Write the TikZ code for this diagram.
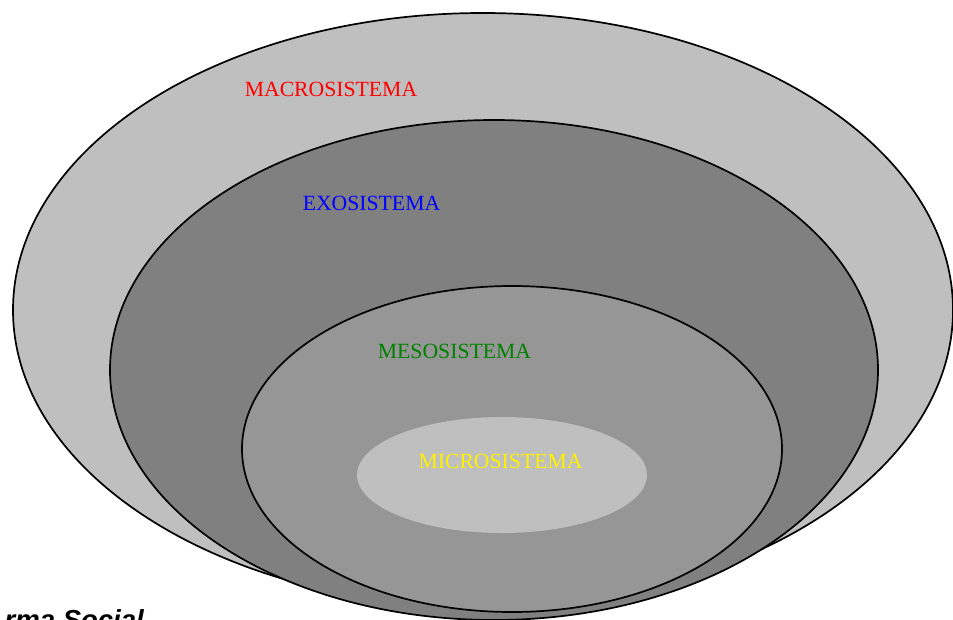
\documentclass[tikz,border=0pt]{standalone}
\usepackage{fontspec}
\setmainfont{Liberation Serif}
\newfontfamily\capfont{Liberation Sans}
\usetikzlibrary{shapes.geometric}
\definecolor{outerfill}{RGB}{191,191,191}
\definecolor{exofill}{RGB}{128,128,128}
\definecolor{mesofill}{RGB}{150,150,150}
\definecolor{microfill}{RGB}{191,191,191}
\definecolor{mesogreen}{RGB}{0,128,0}
\tikzset{
  ring/.style={ellipse, draw=black, line width=1.7pt, inner sep=0pt},
  lbl/.style={font=\fontsize{21.7}{24}\selectfont, inner sep=0pt}
}
\begin{document}
\begin{tikzpicture}[x=1pt,y=-1pt]
\useasboundingbox (0,0) rectangle (953,619);
\clip (0,0) rectangle (953,619);
\node[ring, fill=outerfill, minimum width=940pt, minimum height=594pt] (macro) at (483,310) {};
\node[ring, fill=exofill, minimum width=768pt, minimum height=500pt] (exo) at (494,370) {};
\node[ring, fill=mesofill, minimum width=540pt, minimum height=326pt] (meso) at (512,449) {};
\node[ellipse, fill=microfill, inner sep=0pt, minimum width=290pt, minimum height=116pt] (micro) at (502,475) {};
\node[lbl, text=red] (macrolbl) at (331,89) {MACROSISTEMA};
\node[lbl, text=blue] (exolbl) at (371.5,203) {EXOSISTEMA};
\node[lbl, text=mesogreen] (mesolbl) at (454.5,351) {MESOSISTEMA};
\node[lbl, text=yellow] (microlbl) at (500.5,461) {MICROSISTEMA};
\node[font=\capfont\bfseries\itshape\fontsize{27.5}{30}\selectfont, inner sep=0pt, anchor=base east] (caption) at (144,629) {rma Social};
\end{tikzpicture}
\end{document}
